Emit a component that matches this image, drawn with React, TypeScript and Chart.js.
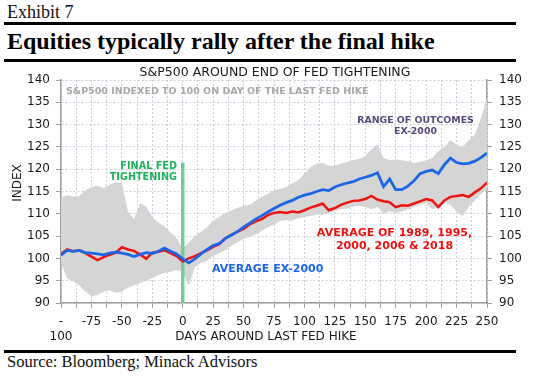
import React, { useEffect, useRef } from 'react';
import { Chart, registerables } from 'chart.js';

Chart.register(...registerables);

// Days around the last Fed hike
const DAYS = [
  -100, -95, -90, -85, -80, -75, -70, -65, -60, -55, -50, -45, -40, -35, -30, -25, -20, -15, -10, -5,
  0, 5, 10, 15, 20, 25, 30, 35, 40, 45, 50, 55, 60, 65, 70, 75, 80, 85, 90, 95,
  100, 105, 110, 115, 120, 125, 130, 135, 140, 145, 150, 155, 160, 165, 170, 175, 180, 185, 190, 195,
  200, 205, 210, 215, 220, 225, 230, 235, 240, 245, 250,
];

// Average of 1989, 1995, 2000, 2006 & 2018 (red)
const AVG_ALL = [
  101.0, 102.0, 101.6, 101.8, 101.2, 100.4, 99.6, 100.3, 100.8, 101.3, 102.5, 102.0, 101.7, 100.9, 99.9, 101.3, 101.5, 101.8, 101.2, 100.5,
  99.3, 100.0, 100.5, 101.2, 101.8, 102.6, 103.2, 104.5, 105.3, 106.0, 106.6, 107.6, 108.3, 108.8, 109.7, 110.2, 110.4, 110.2, 110.5, 110.3,
  110.8, 111.4, 111.8, 112.3, 110.8, 111.3, 112.0, 112.5, 112.9, 113.0, 113.3, 114.0, 113.2, 112.8, 112.6, 111.5, 111.9, 111.8, 112.3, 112.8,
  113.3, 113.0, 111.5, 113.0, 113.8, 114.0, 114.2, 113.8, 114.8, 115.7, 117.0,
];

// Average ex-2000 (blue)
const AVG_EX2000 = [
  100.7, 101.8, 101.6, 101.8, 101.3, 101.2, 101.0, 100.8, 101.2, 101.4, 101.2, 100.9, 100.4, 100.9, 101.3, 101.1, 101.6, 102.3, 101.6, 101.0,
  99.9, 99.0, 99.9, 101.0, 102.0, 102.9, 103.3, 104.5, 105.2, 106.0, 107.0, 107.9, 108.8, 109.6, 110.4, 111.2, 111.9, 112.5, 113.0, 113.7,
  114.2, 114.5, 115.0, 115.4, 115.2, 116.0, 116.5, 116.9, 117.2, 117.8, 118.2, 118.6, 119.2, 116.1, 117.8, 115.4, 115.4, 116.2, 117.4, 119.0,
  119.5, 119.8, 119.0, 121.0, 122.5, 121.5, 121.2, 121.3, 121.8, 122.6, 123.6,
];

// Range of outcomes ex-2000 (grey band)
const RANGE_LOW = [
  99.0, 95.5, 94.8, 94.0, 92.5, 91.5, 91.8, 92.5, 92.8, 92.3, 92.5, 93.5, 94.0, 94.5, 95.0, 95.6, 96.2, 96.7, 97.0, 97.4,
  97.0, 93.8, 98.0, 99.0, 99.5, 100.6, 101.2, 101.8, 102.8, 103.6, 104.4, 104.8, 105.4, 106.2, 107.0, 107.6, 108.4, 108.6, 108.5, 109.0,
  109.3, 109.5, 109.8, 109.8, 110.2, 110.6, 111.0, 111.2, 111.6, 111.8, 111.5, 111.0, 111.5, 110.0, 110.5, 110.2, 110.5, 111.0, 111.5, 112.0,
  112.5, 111.0, 111.5, 112.5, 112.0, 110.5, 109.5, 111.5, 113.0, 114.5, 115.5,
];
const RANGE_HIGH = [
  113.5, 114.2, 113.8, 114.0, 115.3, 116.0, 116.3, 115.8, 116.5, 117.0, 116.9, 110.5, 108.8, 112.4, 111.6, 109.3, 108.0, 107.2, 105.8, 104.5,
  102.2, 103.5, 105.0, 106.0, 107.0, 108.5, 109.3, 110.2, 110.8, 111.3, 111.8, 112.0, 113.0, 113.8, 114.5, 115.3, 115.6, 116.0, 116.8, 117.6,
  119.0, 120.5, 121.3, 121.4, 120.8, 120.8, 121.2, 121.6, 122.0, 122.3, 123.0, 124.5, 125.6, 122.5, 122.0, 122.2, 122.0, 121.8, 121.4, 121.6,
  122.0, 122.5, 124.0, 125.0, 126.5, 125.5, 125.0, 126.5, 127.8, 131.5, 136.0,
];

// Final Fed tightening marker
const FINAL_HIKE_DAY = 0;
const FINAL_HIKE_LINE = [90, 121.5];

// Axes
const X_MIN = -100;
const X_MAX = 250;
const X_GRID_STEP = 12.5;
const X_LABEL_STEP = 25;
const Y_MIN = 90;
const Y_MAX = 140;
const Y_STEP = 5;

const TITLE = 'S&P500 AROUND END OF FED TIGHTENING';
const SUBTITLE = 'S&P500 INDEXED TO 100 ON DAY OF THE LAST FED HIKE';
const X_TITLE = 'DAYS AROUND LAST FED HIKE';
const Y_TITLE = 'INDEX';

const FONT = "'DejaVu Sans', Verdana, sans-serif";
const SERIF = "'Liberation Serif', 'DejaVu Serif', serif";

const toPoints = (ys: number[]) => DAYS.map((d, i) => ({ x: d, y: ys[i] }));

const annotationPlugin = {
  id: 'annots',
  afterDraw(chart: any) {
    const ctx = chart.ctx as CanvasRenderingContext2D;
    ctx.save();
    const txt = (s: string, x: number, y: number, font: string, color: string, align: CanvasTextAlign) => {
      ctx.font = font;
      ctx.fillStyle = color;
      ctx.textAlign = align;
      ctx.textBaseline = 'middle';
      ctx.fillText(s, x, y);
    };
    txt(TITLE, 275, 11, `12.5px ${FONT}`, '#1a1a1a', 'center');
    txt(SUBTITLE, 66, 30, `bold 9.5px ${FONT}`, '#a8a8a8', 'left');
    txt('FINAL FED', 177, 104, `bold 9.7px ${FONT}`, '#1db35a', 'right');
    txt('TIGHTENING', 177, 115, `bold 9.7px ${FONT}`, '#1db35a', 'right');
    txt('RANGE OF OUTCOMES', 415.5, 59, `bold 9.4px ${FONT}`, '#5a4a80', 'center');
    txt('EX-2000', 415.5, 69.5, `bold 9.4px ${FONT}`, '#5a4a80', 'center');
    txt('AVERAGE OF 1989, 1995,', 394.5, 171.5, `bold 11px ${FONT}`, '#ee1111', 'center');
    txt('2000, 2006 & 2018', 394.5, 184, `bold 11px ${FONT}`, '#ee1111', 'center');
    txt('AVERAGE EX-2000', 212, 207.5, `bold 11px ${FONT}`, '#1a66e6', 'left');
    txt(X_TITLE, 266, 274.5, `12px ${FONT}`, '#1a1a1a', 'center');
    ctx.translate(18, 121);
    ctx.rotate(-Math.PI / 2);
    txt(Y_TITLE, 0, 0, `12px ${FONT}`, '#1a1a1a', 'center');
    ctx.restore();
  },
};

function ChartView() {
  const ref = useRef<HTMLCanvasElement>(null);
  useEffect(() => {
    if (!ref.current) return;
    const gridColor = '#cdcbe0';
    const axisColor = '#a0a0a0';
    const chart = new Chart(ref.current, {
      type: 'line',
      data: {
        datasets: [
          {
            label: 'low',
            data: toPoints(RANGE_LOW),
            borderWidth: 0,
            pointRadius: 0,
            fill: false,
            order: 6,
          },
          {
            label: 'Range of outcomes ex-2000',
            data: toPoints(RANGE_HIGH),
            borderWidth: 0,
            pointRadius: 0,
            backgroundColor: '#d5d5d5',
            fill: '-1',
            order: 5,
          },
          {
            label: 'Final Fed tightening',
            data: FINAL_HIKE_LINE.map((y) => ({ x: FINAL_HIKE_DAY, y })),
            borderColor: '#74cc96',
            borderWidth: 3.5,
            pointRadius: 0,
            fill: false,
            order: 3,
          },
          {
            label: 'Average of 1989, 1995, 2000, 2006 & 2018',
            data: toPoints(AVG_ALL),
            borderColor: '#ee1414',
            borderWidth: 2.5,
            pointRadius: 0,
            fill: false,
            order: 2,
          },
          {
            label: 'Average ex-2000',
            data: toPoints(AVG_EX2000),
            borderColor: '#1a66e6',
            borderWidth: 2.8,
            pointRadius: 0,
            fill: false,
            order: 1,
          },
        ],
      },
      options: {
        animation: false,
        responsive: false,
        maintainAspectRatio: false,
        layout: { padding: { top: 18, left: 0, right: 0, bottom: 0 } },
        plugins: { legend: { display: false }, tooltip: { enabled: false }, title: { display: false } },
        elements: { line: { tension: 0 } },
        scales: {
          x: {
            type: 'linear',
            min: X_MIN,
            max: X_MAX,
            afterFit: (s: any) => { s.height = 47; },
            ticks: {
              stepSize: X_GRID_STEP,
              autoSkip: false,
              maxRotation: 0,
              minRotation: 0,
              padding: 6,
              color: '#1a1a1a',
              font: { family: FONT, size: 12, lineHeight: 1.25 },
              callback: (v: any) => {
                const n = Number(v);
                if (n % X_LABEL_STEP !== 0) return '';
                if (n <= -100) return ['-', String(-n)];
                return String(n);
              },
            },
            grid: {
              color: gridColor,
              lineWidth: 1,
              tickColor: axisColor,
              tickLength: 5,
              tickBorderDash: [],
            },
            border: { display: true, color: axisColor, width: 1.5, dash: [2, 2] },
          },
          y: {
            type: 'linear',
            position: 'left',
            min: Y_MIN,
            max: Y_MAX,
            afterFit: (s: any) => { s.width = 61; },
            ticks: {
              stepSize: Y_STEP,
              padding: 6,
              color: '#1a1a1a',
              font: { family: FONT, size: 12 },
            },
            grid: {
              color: gridColor,
              lineWidth: 1,
              tickColor: axisColor,
              tickLength: 5,
              tickBorderDash: [],
            },
            border: { display: true, color: axisColor, width: 1.5, dash: [2, 2] },
          },
          y2: {
            type: 'linear',
            position: 'right',
            min: Y_MIN,
            max: Y_MAX,
            afterFit: (s: any) => { s.width = 52; },
            ticks: {
              stepSize: Y_STEP,
              padding: 7,
              color: '#1a1a1a',
              font: { family: FONT, size: 12 },
            },
            grid: {
              drawOnChartArea: false,
              tickColor: axisColor,
              tickLength: 5,
            },
            border: { display: true, color: axisColor, width: 1.5 },
          },
        },
      },
      plugins: [annotationPlugin],
    } as any);
    return () => chart.destroy();
  }, []);
  return <canvas ref={ref} width={539} height={288} style={{ position: 'absolute', left: 0, top: 62, width: 539, height: 288 }} />;
}

export default function App() {
  const rule = (top: number) => (
    <div style={{ position: 'absolute', left: 4, top, width: 512, height: 2.5, background: '#000' }} />
  );
  return (
    <div style={{ position: 'absolute', left: 0, top: 0, width: 539, height: 376, background: '#fff', overflow: 'hidden' }}>
      <div style={{ position: 'absolute', left: 7, top: 2, fontFamily: SERIF, fontSize: 18, lineHeight: '20px', color: '#111', whiteSpace: 'nowrap' }}>
        Exhibit 7
      </div>
      {rule(22)}
      <div style={{ position: 'absolute', left: 7, top: 27, fontFamily: SERIF, fontSize: 24, fontWeight: 'bold', lineHeight: '28px', color: '#000', whiteSpace: 'nowrap' }}>
        Equities typically rally after the final hike
      </div>
      {rule(59)}
      <ChartView />
      {rule(350)}
      <div style={{ position: 'absolute', left: 7, top: 353, fontFamily: SERIF, fontSize: 16.5, lineHeight: '18px', color: '#111', whiteSpace: 'nowrap' }}>
        Source: Bloomberg; Minack Advisors
      </div>
    </div>
  );
}
